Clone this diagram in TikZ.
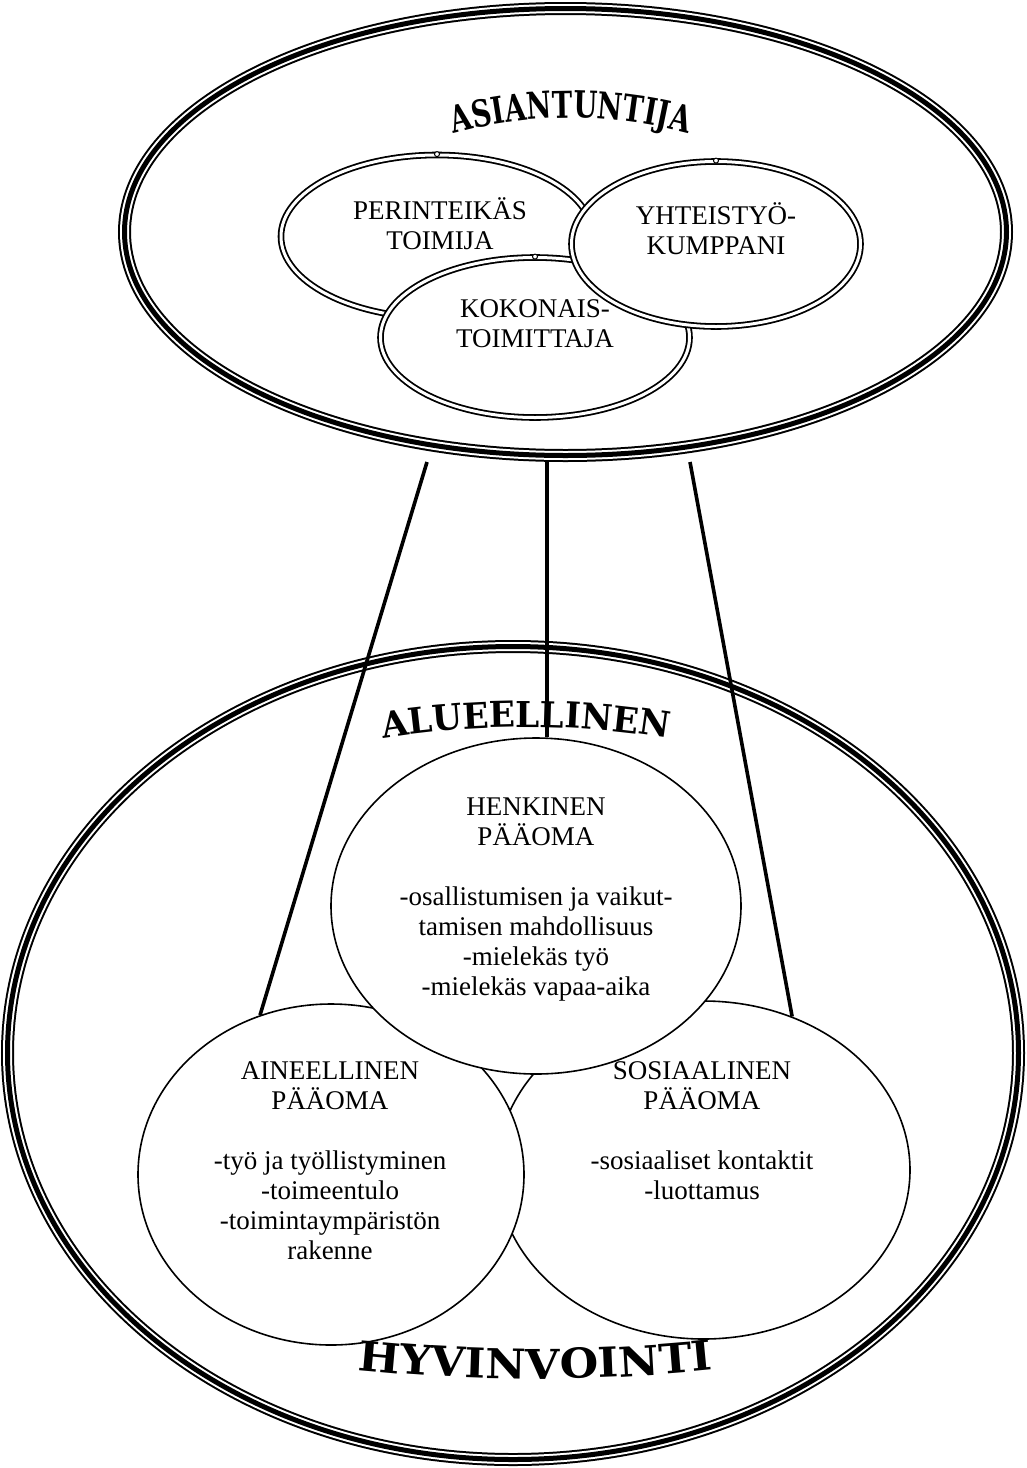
\documentclass[tikz,border=0pt]{standalone}
\usepackage{fontspec}
\setmainfont{Liberation Serif}
\newfontfamily\wafamily{DejaVu Serif}
\usetikzlibrary{shapes.geometric,calc}

\newcommand\bodysize{\fontsize{27}{30}\selectfont}
\newcommand\wordartfont{\wafamily\fontsize{30}{30}\selectfont\bfseries}

\newlength\awTotal
\newlength\awChar
\newlength\awCap
% measures text outside the picture's null font: #1 \settowidth or \settoheight, #2 length, #3 text
\newcommand\awMeasure[3]{%
  \pgfinterruptpicture
    #1{\dimen0}{\normalfont#3}\global#2=\dimen0\relax
  \endpgfinterruptpicture}
% Sets a word letter by letter along a circular arc.
% #1 centre of the circle, #2 radius, #3 1 = letters outside the circle, -1 = inside,
% #4 length of the word along the arc, #5 height of the capitals, #6 font,
% #7 the word, #8 its letters as a list, #9 prefix of the letter names
\newcommand\arcword[9]{%
  \awMeasure\settowidth\awTotal{#6#7}%
  \awMeasure\settoheight\awCap{#6H}%
  \pgfmathsetmacro\awK{#4/\awTotal}%
  \pgfmathsetmacro\awKy{#5/\awCap}%
  \pgfmathsetmacro\awStart{-#4/2}%
  \global\let\awPos\awStart
  \foreach \ch [count=\i] in {#8}{%
    \awMeasure\settowidth\awChar{#6\ch}%
    \pgfmathsetmacro\awPhi{(\awPos+\awK*\awChar/2)/#2*180/pi}%
    \pgfmathsetmacro\awTheta{-90*(#3)+(#3)*\awPhi}%
    \pgfmathsetmacro\awRot{-(#3)*\awPhi}%
    \node[inner sep=0, anchor=base, rotate=\awRot, xscale=\awK, yscale=\awKy]
      (#9\i) at ($(#1)+(\awTheta:#2)$) {#6\ch};
    \pgfmathsetmacro\awNext{\awPos+\awK*\awChar}%
    \global\let\awPos\awNext
  }%
}

\begin{document}
\begin{tikzpicture}[x=1pt, y=-1pt,
  triple/.style={ellipse, inner sep=0, draw=white, line width=9pt,
    preaction={draw=black, line width=13pt},
    postaction={draw=black, line width=5pt}},
  dbl/.style={ellipse, inner sep=0, draw=black, fill=white, line width=1.8pt,
    double=white, double distance=3pt},
  capital/.style={ellipse, inner sep=0, draw=black, fill=white, line width=1.6pt},
  ring/.style={circle, inner sep=0, minimum size=5pt, draw=black, fill=white, line width=1pt},
  txt/.style={align=center, inner sep=0, font=\bodysize},
  link/.style={draw=black, line width=3.6pt},
]
\path[use as bounding box, fill=white] (0,0) rectangle (1027,1468);

% the two framing ellipses
\node[triple, minimum width=882pt, minimum height=447pt] (expert) at (565.5,232) {};
\node[triple, minimum width=1011pt, minimum height=813pt] (region) at (513,1053) {};

% the three kinds of capital
\node[capital, minimum width=413pt, minimum height=338pt] (sosi) at (703.5,1170) {};
\node[capital, minimum width=386pt, minimum height=341pt] (aine) at (331,1174.5) {};
\node[capital, minimum width=410pt, minimum height=336pt] (hen) at (536,906) {};

% connectors from the expert roles down to the capitals
\coordinate (from-left) at (427,462);
\coordinate (from-mid) at (547,462);
\coordinate (from-right) at (690,462);
\draw[link] (from-left) -- (aine.114);
\draw[link] (from-mid) -- (from-mid |- hen.north);
\draw[link] (from-right) -- (sosi.60);

% expert roles
\node[dbl, minimum width=312pt, minimum height=163pt] (per) at (437,236.5) {};
\node[dbl, minimum width=309pt, minimum height=160pt] (kok) at (535,337.5) {};
\node[dbl, minimum width=289pt, minimum height=165pt] (yht) at (716,244) {};
\node[ring] (per-ring) at (per.north) {};
\node[ring] (kok-ring) at (kok.north) {};
\node[ring] (yht-ring) at (yht.north) {};

\node[txt] (per-text) at (440,224) {PERINTEIKÄS\\TOIMIJA};
\node[txt] (kok-text) at (535,324) {KOKONAIS-\\TOIMITTAJA};
\node[txt] (yht-text) at (716,229) {YHTEISTYÖ-\\KUMPPANI};

\node[txt] (hen-text) at (536,900) {HENKINEN\\PÄÄOMA\\[30pt]-osallistumisen ja vaikut-\\tamisen mahdollisuus\\-mielekäs työ\\-mielekäs vapaa-aika};
\node[txt] (aine-text) at (330,1161) {AINEELLINEN\\PÄÄOMA\\[30pt]-työ ja työllistyminen\\-toimeentulo\\-toimintaympäristön\\rakenne};
\node[txt] (sosi-text) at (702,1131) {SOSIAALINEN\\PÄÄOMA\\[30pt]-sosiaaliset kontaktit\\-luottamus};

% arched headings
\arcword{571,565}{447}{1}{237}{27}{\wordartfont}{ASIANTUNTIJA}{A,S,I,A,N,T,U,N,T,I,J,A}{asia}
\arcword{525,1627}{900}{1}{285}{26}{\wordartfont}{ALUEELLINEN}{A,L,U,E,E,L,L,I,N,E,N}{alue}
\arcword{535,-386}{1765}{-1}{356}{30}{\wordartfont}{HYVINVOINTI}{H,Y,V,I,N,V,O,I,N,T,I}{hyvi}
\end{tikzpicture}
\end{document}
